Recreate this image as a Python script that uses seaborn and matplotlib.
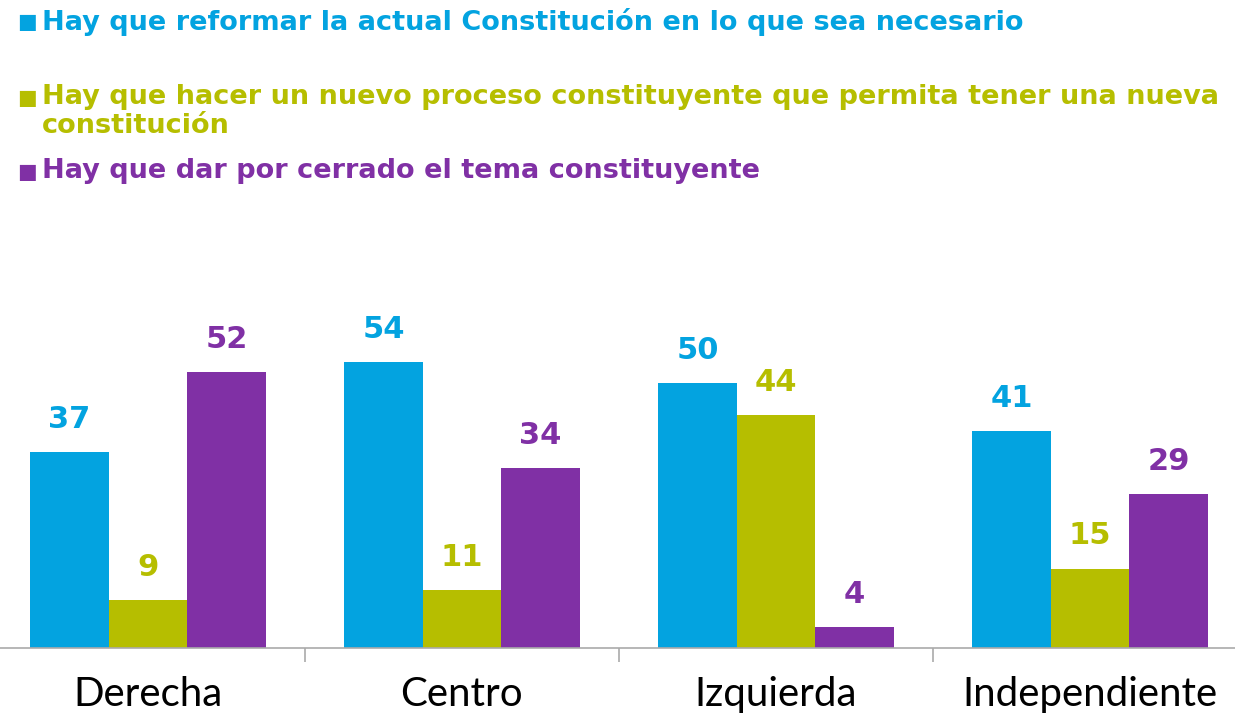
import matplotlib
matplotlib.use("Agg")
import matplotlib.pyplot as plt
import pandas as pd
import seaborn as sns

# data
groups = ["Derecha", "Centro", "Izquierda", "Independiente"]
series = [
    "Hay que reformar la actual Constitución en lo que sea necesario",
    "Hay que hacer un nuevo proceso constituyente que permita tener una nueva\nconstitución",
    "Hay que dar por cerrado el tema constituyente",
]
reformar = [37, 54, 50, 41]
nuevo = [9, 11, 44, 15]
cerrado = [52, 34, 4, 29]
colors = ["#03A3E0", "#B6BE00", "#8030A5"]

df = pd.DataFrame({"grupo": groups * 3,
                   "opcion": [series[0]] * 4 + [series[1]] * 4 + [series[2]] * 4,
                   "valor": reformar + nuevo + cerrado})

sns.set_style("white")
plt.rcParams["font.family"] = ["DejaVu Sans"]

fig = plt.figure(figsize=(12.35, 7.15), dpi=100)
ax = fig.add_axes([0, 67 / 715, 1, 318 / 715])

sns.barplot(data=df, x="grupo", y="valor", hue="opcion", palette=colors,
            width=0.75, gap=0, saturation=1, linewidth=0, ax=ax, legend=False)

ax.set_ylim(0, 60)
ax.set_xlim(-0.471, 3.462)
for s in ["top", "right", "left"]:
    ax.spines[s].set_visible(False)
ax.spines["bottom"].set_color("#aaaaaa")
ax.spines["bottom"].set_linewidth(1.2)
ax.set_yticks([])
ax.set_xlabel("")
ax.set_ylabel("")
ax.tick_params(axis="x", which="major", length=0, pad=20, labelsize=29,
               labelcolor="black")
for t in ax.get_xticklabels():
    t.set_fontfamily("Lato")
    t.set_fontweight("normal")
ax.set_xticks([0.5, 1.5, 2.5], minor=True)
ax.tick_params(axis="x", which="minor", bottom=True, length=10,
               color="#aaaaaa", width=1.2, direction="out")

for cont, col in zip(ax.containers, colors):
    ax.bar_label(cont, padding=13, color=col, fontsize=22, fontweight="bold",
                 clip_on=False)

# legend drawn as text lines
leg_y = [22, 98, 172]
for lab, col, y in zip(series, colors, leg_y):
    fig.text(17 / 1235, 1 - y / 715, "■", color=col, fontsize=15, va="center")
    fig.text(42 / 1235, 1 - (y - 14) / 715, lab, color=col, fontsize=19.5,
             fontweight="bold", va="top", linespacing=1.15)

fig.savefig("out.png", dpi=100)
